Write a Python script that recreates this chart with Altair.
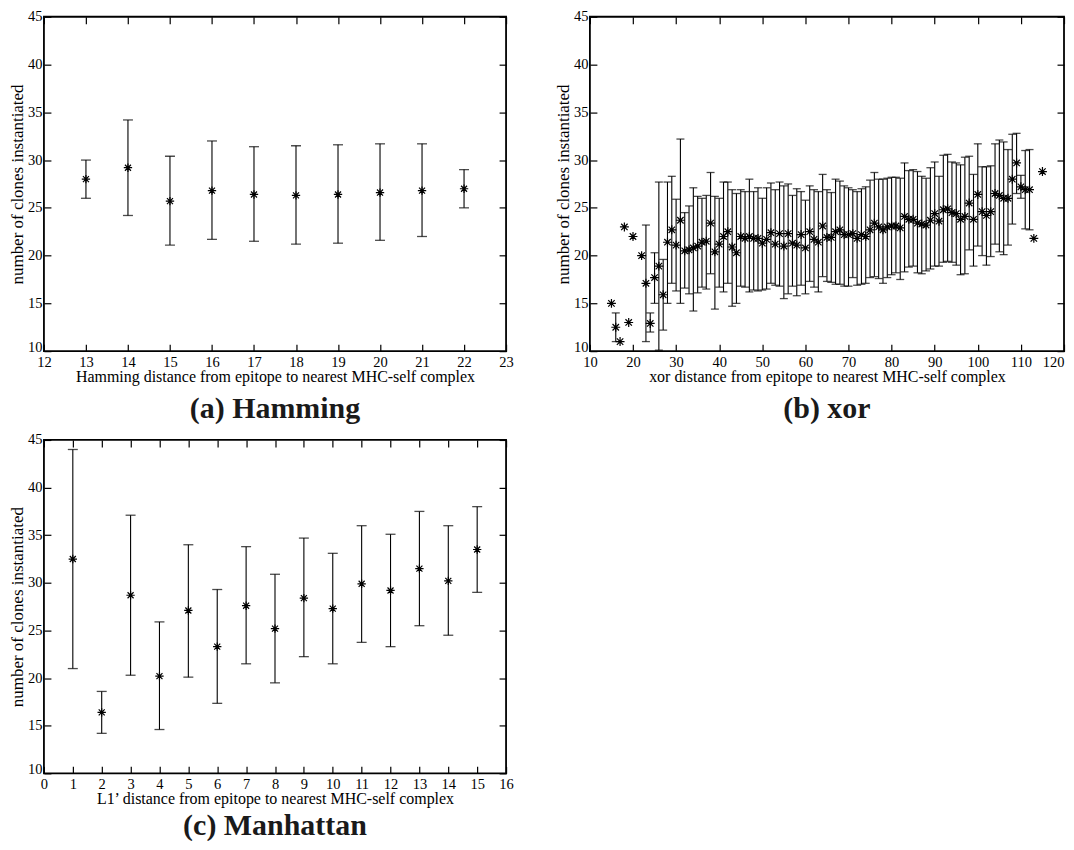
import altair as alt
import pandas as pd

# ---------------- data ----------------
ham_x = [13, 14, 15, 16, 17, 18, 19, 20, 21, 22]
ham_mean = [28.0, 29.2, 25.7, 26.8, 26.4, 26.3, 26.4, 26.6, 26.8, 27.0]
ham_lo = [26.0, 24.2, 21.1, 21.7, 21.5, 21.2, 21.3, 21.6, 22.0, 25.0]
ham_hi = [30.0, 34.2, 30.4, 32.0, 31.4, 31.5, 31.6, 31.7, 31.7, 29.0]

xor_x = [15, 16, 17, 18, 19, 20, 22, 23, 24, 25, 26, 27, 28, 29, 30,
         31, 32, 33, 34, 35, 36, 37, 38, 39, 40, 41, 42, 43, 44, 45,
         46, 47, 48, 49, 50, 51, 52, 53, 54, 55, 56, 57, 58, 59, 60,
         61, 62, 63, 64, 65, 66, 67, 68, 69, 70, 71, 72, 73, 74, 75,
         76, 77, 78, 79, 80, 81, 82, 83, 84, 85, 86, 87, 88, 89, 90,
         91, 92, 93, 94, 95, 96, 97, 98, 99, 100, 101, 102, 103, 104, 105,
         106, 107, 108, 109, 110, 111, 112, 113, 115]
xor_mean = [15.0, 12.5, 11.0, 23.0, 13.0, 22.0, 20.0, 17.1, 12.9, 17.7, 18.9, 15.9, 21.4, 22.7, 21.1,
            23.7, 20.5, 20.6, 20.8, 21.0, 21.4, 21.5, 23.4, 20.4, 21.2, 22.0, 22.5, 20.9, 20.3, 22.0,
            21.8, 22.0, 21.8, 21.8, 21.3, 21.7, 22.4, 21.2, 22.3, 21.0, 22.3, 21.3, 21.1, 22.2, 20.8,
            22.5, 21.7, 21.4, 23.1, 21.9, 21.9, 22.5, 22.7, 22.2, 22.2, 22.3, 21.8, 22.2, 22.0, 22.7,
            23.4, 23.0, 22.7, 23.0, 23.1, 23.1, 22.9, 24.1, 23.8, 23.8, 23.4, 23.3, 23.2, 23.7, 24.4,
            23.6, 24.8, 24.9, 24.5, 24.4, 23.8, 24.1, 25.5, 23.8, 26.4, 24.6, 24.2, 24.6, 26.5, 26.3,
            26.0, 26.0, 28.0, 29.7, 27.2, 26.9, 26.9, 21.8, 28.8]
xor_lo = [None, 11.0, None, None, None, None, None, 11.0, 12.0, 15.0, 10.1, 12.2, 15.0, 17.1, 16.3,
          15.0, 16.6, 16.0, 14.2, 16.1, 16.7, 16.5, 18.1, 14.4, 16.7, 16.2, 17.1, 14.7, 15.0, 16.8,
          16.7, 16.2, 16.4, 16.3, 16.4, 16.5, 17.1, 16.9, 16.8, 15.5, 16.0, 16.8, 15.8, 16.9, 16.0,
          17.3, 16.7, 16.2, 17.8, 17.3, 17.2, 17.0, 17.0, 16.8, 16.8, 17.7, 16.9, 17.0, 17.1, 17.7,
          17.8, 17.6, 17.1, 17.7, 18.0, 18.2, 17.5, 18.3, 18.8, 18.9, 18.2, 18.1, 18.4, 18.6, 18.9,
          18.9, 19.3, 19.4, 19.3, 19.0, 18.0, 18.1, 20.6, 18.9, 21.0, 20.0, 19.0, 19.9, 21.2, 20.4,
          20.1, 21.1, 23.3, 26.5, 26.0, 22.8, 22.7, None, None]
xor_hi = [None, 14.0, None, None, None, None, None, 23.2, 14.0, 20.3, 27.7, 19.6, 27.7, 28.3, 25.9,
          32.2, 24.5, 25.2, 27.1, 26.2, 26.0, 26.3, 28.7, 26.2, 26.0, 27.7, 27.7, 26.9, 26.5, 26.9,
          26.7, 28.0, 26.7, 27.1, 26.0, 27.1, 27.6, 26.9, 27.7, 27.3, 27.5, 26.3, 27.0, 26.7, 25.8,
          27.3, 26.9, 26.7, 28.5, 26.9, 26.6, 28.0, 27.8, 27.3, 27.1, 26.9, 26.7, 27.0, 27.2, 27.9,
          28.7, 28.0, 28.0, 28.1, 28.2, 28.2, 28.1, 29.7, 28.9, 29.0, 28.8, 28.3, 28.1, 29.2, 29.8,
          28.3, 30.5, 30.6, 29.8, 29.7, 29.5, 30.3, 30.4, 28.5, 31.7, 29.3, 29.3, 29.4, 31.7, 32.1,
          31.9, 31.1, 32.7, 32.8, 28.4, 31.0, 31.1, None, None]

man_x = [1, 2, 3, 4, 5, 6, 7, 8, 9, 10, 11, 12, 13, 14, 15]
man_mean = [32.5, 16.4, 28.7, 20.2, 27.1, 23.3, 27.6, 25.2, 28.4, 27.3, 29.9, 29.2, 31.5, 30.2, 33.5]
man_lo = [21.0, 14.2, 20.3, 14.6, 20.1, 17.35, 21.5, 19.5, 22.25, 21.5, 23.75, 23.3, 25.5, 24.5, 29.0]
man_hi = [44.0, 18.6, 37.1, 25.9, 34.0, 29.3, 33.8, 30.9, 34.7, 33.1, 36.0, 35.1, 37.5, 36.0, 38.0]

Y_TITLE = "number of clones instantiated"
FONT = "Liberation Serif"
STAR = "M0,-1L0,1M-1,0L1,0M-0.72,-0.72L0.72,0.72M-0.72,0.72L0.72,-0.72"
TICK = 7


def panel(xs, means, los, his, xdom, xstep, xtitle, title, w, h, cap, star,
          title_offset, last_right=False):
    df = pd.DataFrame({"x": xs, "mean": means, "lo": los, "hi": his})
    xticks = list(range(xdom[0], xdom[1] + 1, xstep))
    yticks = list(range(10, 46, 5))
    xs_ = alt.Scale(domain=xdom, nice=False, zero=False)
    ys_ = alt.Scale(domain=[10, 45], nice=False, zero=False)

    bottom_kw = dict(orient="bottom", values=xticks, offset=-TICK, tickSize=TICK,
                     domain=False, grid=False, labelFlush=False, labelPadding=4,
                     title=xtitle, titlePadding=0, titleFontSize=16, labelOverlap=False)
    if last_right:
        bottom_kw["labelAlign"] = {"condition": {"test": f"datum.value == {xdom[1]}",
                                                 "value": "right"},
                                   "value": "center"}
    ax_bottom = alt.Axis(**bottom_kw)
    ax_left = alt.Axis(orient="left", values=yticks, offset=-TICK, tickSize=TICK,
                       domain=False, grid=False, labelPadding=2, title=Y_TITLE,
                       titlePadding=1, titleFontSize=17, labelOverlap=False,
                       labelOffset={"condition": {"test": "datum.value == 10", "value": -4},
                                    "value": 0})
    ax_top = alt.Axis(orient="top", values=xticks, offset=-TICK, tickSize=TICK,
                      domain=False, grid=False, labels=False, title=None)
    ax_right = alt.Axis(orient="right", values=yticks, offset=-TICK, tickSize=TICK,
                        domain=False, grid=False, labels=False, title=None)

    base = alt.Chart(df)
    bars = base.mark_rule(color="black", strokeWidth=1.1).encode(
        x=alt.X("x:Q", scale=xs_, axis=ax_bottom),
        y=alt.Y("lo:Q", scale=ys_, axis=ax_left),
        y2="hi:Q",
    )
    cap_lo = base.mark_tick(orient="horizontal", color="black", size=cap, thickness=1.3).encode(
        x=alt.X("x:Q", scale=xs_, axis=None),
        y=alt.Y("lo:Q", scale=ys_, axis=None),
    )
    cap_hi = base.mark_tick(orient="horizontal", color="black", size=cap, thickness=1.3).encode(
        x=alt.X("x:Q", scale=xs_, axis=None),
        y=alt.Y("hi:Q", scale=ys_, axis=None),
    )
    pts = base.mark_point(shape=STAR, size=star, filled=False, stroke="black",
                          strokeWidth=1.2, opacity=1).encode(
        x=alt.X("x:Q", scale=xs_, axis=ax_top),
        y=alt.Y("mean:Q", scale=ys_, axis=ax_right),
    )
    return alt.layer(bars, cap_lo, cap_hi, pts).resolve_axis(
        x="independent", y="independent"
    ).properties(
        width=w, height=h,
        title=alt.TitleParams(title, orient="bottom", anchor="middle", fontSize=30,
                              fontWeight="bold", font=FONT, color="#1a1a1a",
                              offset=title_offset),
    )


a = panel(ham_x, ham_mean, ham_lo, ham_hi, [12, 23], 1,
          "Hamming distance from epitope to nearest MHC-self complex", "(a) Hamming",
          463, 335, 10, 70, 9)
b = panel(xor_x, xor_mean, xor_lo, xor_hi, [10, 120], 10,
          "xor distance from epitope to nearest MHC-self complex", "(b) xor",
          475, 335, 8, 80, 9, last_right=True)
c = panel(man_x, man_mean, man_lo, man_hi, [0, 16], 1,
          "L1\u2019 distance from epitope to nearest MHC-self complex", "(c) Manhattan",
          463, 334, 10, 70, 4)

chart = alt.concat(
    a, b, c, columns=2, bounds="flush", spacing={"row": 89, "column": 84},
).properties(
    padding={"left": -1, "top": -1, "right": 0, "bottom": -2},
    background="white",
).configure_view(
    stroke="black", strokeWidth=1.8
).configure_axis(
    labelFont=FONT, titleFont=FONT, labelFontSize=14.5,
    labelColor="black", titleColor="black", tickColor="black", tickWidth=1.2,
    titleFontWeight="normal",
)

chart.save("out.html", embed_options={"renderer": "svg", "actions": False})
